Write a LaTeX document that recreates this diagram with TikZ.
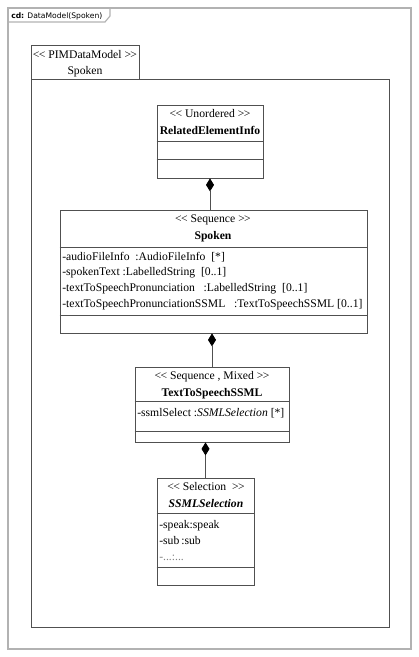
\documentclass[tikz,border=0pt]{standalone}
\usepackage{fontspec}
\setmainfont{Liberation Serif}
\newfontfamily\tabfont{DejaVu Sans}
\usetikzlibrary{arrows.meta,positioning,shapes.geometric,fit,calc}
\definecolor{frameGray}{RGB}{178,178,178}
\definecolor{boxInk}{RGB}{80,80,80}
\newcommand{\stereo}[1]{\mbox{<}\kern-0.5pt\mbox{<}\ #1\ \mbox{>}\kern-0.5pt\mbox{>}}

\begin{document}
\begin{tikzpicture}[x=0.75pt,y=-0.75pt,font=\fontsize{8.75}{10}\selectfont,
        frm/.style={draw=frameGray,line width=0.9pt},
        box/.style={draw=boxInk,line width=0.6pt},
        cls/.style={box,inner sep=0pt},
        ster/.style={inner sep=0pt,anchor=base},
        attr/.style={inner sep=0pt,anchor=base west},
        comp/.style={box,-{Diamond[length=13pt*0.75,width=8pt*0.75,fill=black,color=black]}}]
  \useasboundingbox (0,0) rectangle (418,657);
  % diagram frame and its tab
  \node[frm,fit={(8,8) (411,649)},inner sep=0pt] (frame) {};
  \draw[frm] (8,22) -- (105,22) -- (110,16) -- (110,8);
  \node[inner sep=0pt,anchor=base west,font=\tabfont\fontsize{5.7}{7}\selectfont]
    (tab) at (11,18.5) {\textbf{cd:} DataModel(Spoken)};
  % package
  \node[cls,fit={(31,45) (139,79)}] (pkgtab) {};
  \node[cls,fit={(31,79) (389,627)}] (pkg) {};
  \node[ster] (pkgS) at (85,58) {\stereo{PIMDataModel}};
  \node[ster] (pkgN) at (85,74) {Spoken};
  % classes
  \node[cls,fit={(157,105) (263,178)}] (rel) {};
  \node[cls,fit={(60,210) (367,333)}] (spk) {};
  \node[cls,fit={(135,367) (289,442)}] (tts) {};
  \node[cls,fit={(157,478) (254,585)}] (sel) {};
  % compartments
  \foreach \n/\a/\b in {rel/141/159,spk/247/315,tts/401/431,sel/513/567}{
    \draw[box] (\n.west |- 0,\a) -- (\n.east |- 0,\a);
    \draw[box] (\n.west |- 0,\b) -- (\n.east |- 0,\b);
  }
  % headers
  \node[ster] (relS) at (210,117) {\stereo{Unordered}};
  \node[ster,font=\fontsize{8.75}{10}\selectfont\bfseries] (relN) at (210,134) {RelatedElementInfo};
  \node[ster] (spkS) at (213,222) {\stereo{Sequence}};
  \node[ster,font=\fontsize{8.75}{10}\selectfont\bfseries] (spkN) at (213,239) {Spoken};
  \node[ster] (ttsS) at (212,379) {\stereo{Sequence , Mixed}};
  \node[ster,font=\fontsize{8.75}{10}\selectfont\bfseries] (ttsN) at (212,396) {TextToSpeechSSML};
  \node[ster] (selS) at (206,490) {\stereo{Selection\ }};
  \node[ster,font=\fontsize{8.75}{10}\selectfont\bfseries\itshape] (selN) at (206,507) {SSMLSelection};
  % attributes
  \node[attr] (a1) at (62,260) {-audioFileInfo\ \ :AudioFileInfo\ \ [*]};
  \node[attr] (a2) at (62,275) {-spokenText :LabelledString\ \ [0..1]};
  \node[attr] (a3) at (62,291) {-textToSpeechPronunciation\ \ \ :LabelledString\ \ [0..1]};
  \node[attr] (a4) at (62,307) {-textToSpeechPronunciationSSML\ \ \ :TextToSpeechSSML [0..1]};
  \node[attr] (a5) at (137,416) {-ssmlSelect\ :\textit{SSMLSelection} [*]};
  \node[attr] (a6) at (159,528) {-speak:speak};
  \node[attr] (a7) at (159,544) {-sub\,:sub};
  \node[attr,text=gray] (a8) at (159,560) {-...:...};
  % compositions
  \draw[comp] (spk.north -| relN) -- (rel.south -| relN);
  \draw[comp] (tts.north) -- (tts.north |- spk.south);
  \draw[comp] (sel.north) -- (sel.north |- tts.south);
\end{tikzpicture}
\end{document}
